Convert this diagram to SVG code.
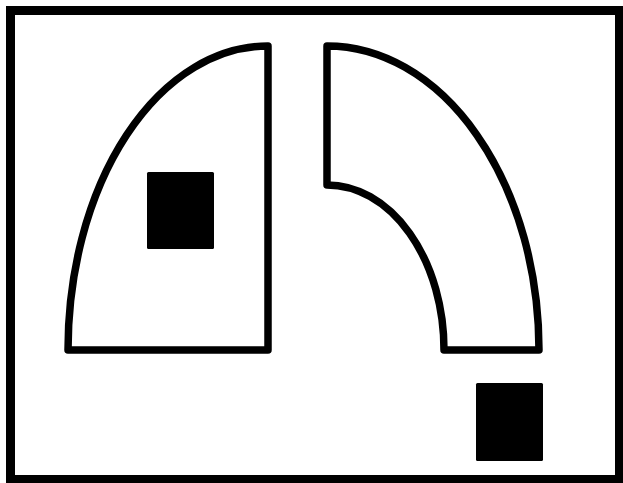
<svg xmlns="http://www.w3.org/2000/svg" width="623" height="483" viewBox="0 0 623 483">
<style>
.frame{fill:#fff;stroke:#000;stroke-width:9}
.shape{fill:#fff;stroke:#000;stroke-width:7.5;stroke-linejoin:round}
.block{fill:#000}
</style>
<rect x="0" y="0" width="623" height="483" fill="#fff"/>
<rect class="frame" x="10.5" y="10.5" width="609" height="469"/>
<g id="left-shape">
<path class="shape" d="M268,46 L268,350 L68,350 A200,304 0 0 1 268,46 Z"/>
<rect class="block" x="147" y="172" width="67" height="77" rx="1.5"/>
</g>
<g id="right-shape">
<path class="shape" d="M327,46 A212,304 0 0 1 539,350 L444,350 A117,165 0 0 0 327,185 Z"/>
</g>
<g id="right-block">
<rect class="block" x="476" y="383" width="67" height="78" rx="1.5"/>
</g>
</svg>
